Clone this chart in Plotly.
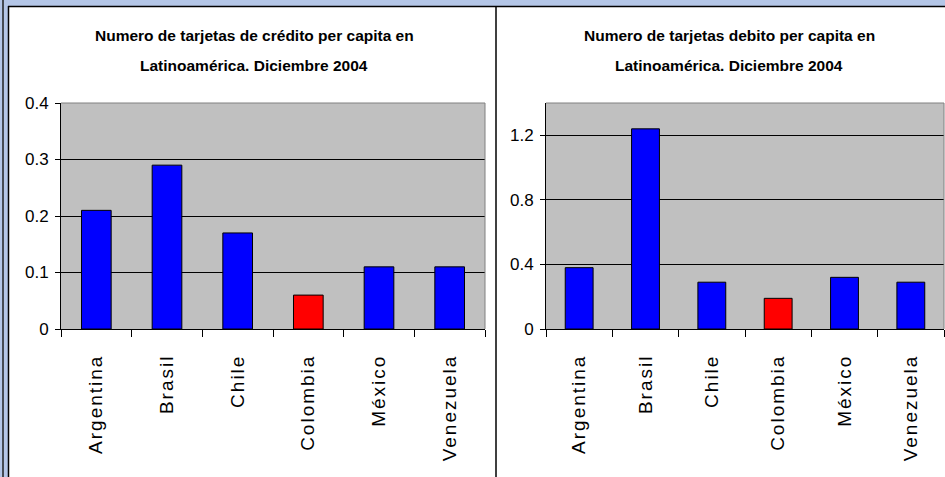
import plotly.graph_objects as go
from plotly.subplots import make_subplots

# Data
countries = ["Argentina", "Brasil", "Chile", "Colombia", "México", "Venezuela"]
credit_per_capita = [0.21, 0.29, 0.17, 0.06, 0.11, 0.11]
debit_per_capita = [0.38, 1.24, 0.29, 0.19, 0.32, 0.29]
highlight = "Colombia"

credit_title = ["Numero de tarjetas de crédito per capita en", "Latinoamérica. Diciembre 2004"]
debit_title = ["Numero de tarjetas debito per capita en", "Latinoamérica. Diciembre 2004"]

credit_ticks = [0, 0.1, 0.2, 0.3, 0.4]
debit_ticks = [0, 0.4, 0.8, 1.2]

W, H = 945, 477
BAND = "#b4c6e7"
TITLE_FONT = "Liberation Sans, Arial"
TICK_FONT = "Liberation Sans, Arial"


def px(x):
    return x / W


def py(y):
    return 1 - y / H


def paper_shape(**kw):
    return dict(xref="paper", yref="paper", **kw)


bar_colors = ["#ff0000" if c == highlight else "#0000ff" for c in countries]
tick_text = [f'<span style="letter-spacing:2px">{c}</span>' for c in countries]

fig = make_subplots(rows=1, cols=2)
for col, values in ((1, credit_per_capita), (2, debit_per_capita)):
    fig.add_trace(
        go.Bar(
            x=countries,
            y=values,
            marker=dict(color=bar_colors, line=dict(color="black", width=1)),
            showlegend=False,
        ),
        row=1,
        col=col,
    )

xaxis_style = dict(
    type="category",
    tickmode="array",
    tickvals=countries,
    ticktext=tick_text,
    tickson="boundaries",
    ticks="outside",
    ticklen=7,
    tickcolor="black",
    tickangle=-90,
    ticklabelstandoff=17,
    showline=True,
    linecolor="black",
    linewidth=1,
    showgrid=False,
    automargin=False,
    tickfont=dict(family=TICK_FONT, size=19, color="black"),
    fixedrange=True,
)
yaxis_style = dict(
    ticks="outside",
    ticklen=5,
    tickcolor="black",
    ticklabelstandoff=3,
    showline=True,
    linecolor="black",
    linewidth=1,
    showgrid=True,
    gridcolor="black",
    gridwidth=1,
    zeroline=False,
    automargin=False,
    tickfont=dict(family=TICK_FONT, size=17, color="black"),
    fixedrange=True,
)

fig.update_xaxes(**xaxis_style)
fig.update_yaxes(**yaxis_style)
fig.update_layout(
    xaxis=dict(domain=[px(61), px(485)]),
    xaxis2=dict(domain=[px(546), px(944)]),
    yaxis=dict(domain=[py(329), py(103)], range=[0, 0.4], tickmode="array", tickvals=credit_ticks),
    yaxis2=dict(domain=[py(329), py(103)], range=[0, 1.4], tickmode="array", tickvals=debit_ticks),
)

shapes = [
    # light blue band along the top
    paper_shape(type="rect", x0=0, x1=1, y0=py(6), y1=py(0), fillcolor=BAND, line_width=0),
    # double frame on the left side
    paper_shape(type="rect", x0=0, x1=px(8), y0=0, y1=1, fillcolor=BAND, line_width=0),
    paper_shape(type="line", x0=px(3), x1=px(3), y0=0, y1=1, line=dict(color="#202020", width=1.5)),
    paper_shape(type="line", x0=px(8.5), x1=px(8.5), y0=0, y1=py(6), line=dict(color="black", width=1.5)),
    paper_shape(type="line", x0=px(8), x1=1, y0=py(6.5), y1=py(6.5), line=dict(color="black", width=1.5)),
    # divider between the two charts
    paper_shape(type="line", x0=px(496), x1=px(496), y0=0, y1=py(6.5), line=dict(color="black", width=1.5)),
]
# grey top/right edges of each plot area
for x0, x1 in ((61, 485), (546, 944)):
    shapes.append(paper_shape(type="line", x0=px(x0), x1=px(x1), y0=py(103), y1=py(103), line=dict(color="#808080", width=1)))
    shapes.append(paper_shape(type="line", x0=px(x1), x1=px(x1), y0=py(103), y1=py(329), line=dict(color="#808080", width=1)))

annotations = []
for lines, cx in ((credit_title, 254), (debit_title, 729)):
    for text, cy in zip(lines, (35, 66)):
        annotations.append(
            dict(
                text=f"<b>{text}</b>",
                x=px(cx),
                y=py(cy),
                xref="paper",
                yref="paper",
                xanchor="center",
                yanchor="middle",
                showarrow=False,
                font=dict(family=TITLE_FONT, size=15.5, color="black"),
            )
        )

fig.update_layout(
    width=W,
    height=H,
    margin=dict(l=0, r=0, t=0, b=0),
    paper_bgcolor="white",
    plot_bgcolor="#c0c0c0",
    bargap=0.58,
    shapes=shapes,
    annotations=annotations,
)

# the page's default body margin would shift the figure; remove it
fig.write_html(
    "out.html",
    config={"displayModeBar": False},
    post_script="document.body.style.margin='0';",
)
